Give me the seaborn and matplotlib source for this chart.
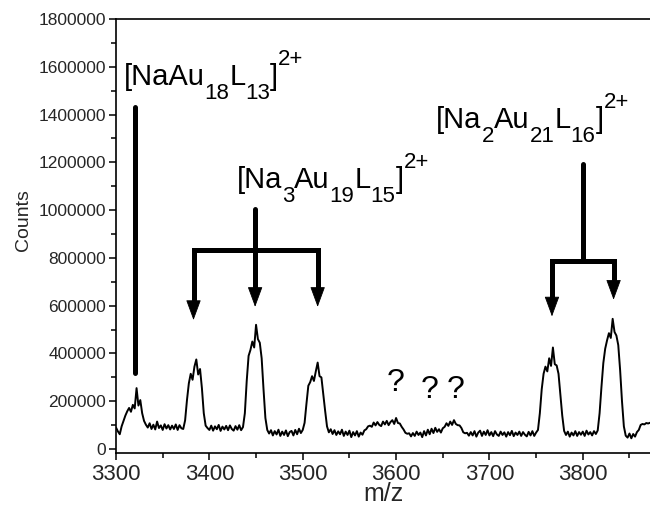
import numpy as np
import pandas as pd
import matplotlib
matplotlib.use("Agg")
import matplotlib.pyplot as plt
import matplotlib.transforms as mtransforms
from matplotlib.ticker import MultipleLocator, FormatStrFormatter
import seaborn as sns

# spectrum, sampled every 2 m/z starting at 3300 (counts in thousands)
mz_start = 3300
mz_step = 2
counts_k = [
    90, 74, 62, 95, 118, 140, 158, 172, 156, 185,
    170, 255, 182, 205, 150, 118, 102, 90, 108, 84,
    102, 82, 115, 88, 99, 80, 104, 86, 100, 82,
    98, 84, 103, 80, 100, 87, 84, 120, 205, 275,
    315, 290, 345, 375, 312, 335, 255, 150, 98, 88,
    80, 98, 77, 95, 83, 101, 76, 94, 82, 97,
    79, 99, 84, 77, 96, 81, 100, 79, 92, 150,
    285, 390, 415, 450, 425, 520, 460, 445, 380, 250,
    130, 80, 65, 79, 57, 75, 61, 81, 55, 73,
    59, 78, 54, 71, 76, 57, 80, 62, 85, 67,
    80, 110, 190, 265, 280, 305, 285, 325, 362, 305,
    300, 230, 160, 95, 70, 83, 63, 79, 59, 74,
    62, 81, 55, 73, 59, 77, 50, 71, 57, 75,
    52, 69, 60, 78, 83, 95, 98, 93, 111, 99,
    113, 101, 96, 115, 103, 118, 100, 113, 121, 105,
    130, 109, 107, 93, 82, 68, 64, 66, 53, 67,
    55, 73, 59, 69, 50, 75, 57, 81, 62, 85,
    67, 89, 72, 83, 69, 87, 93, 108, 97, 115,
    101, 121, 105, 100, 99, 88, 70, 66, 68, 56,
    71, 57, 75, 52, 69, 77, 55, 73, 59, 79,
    57, 71, 54, 75, 61, 55, 73, 59, 70, 52,
    71, 58, 76, 54, 69, 59, 73, 55, 71, 60,
    53, 72, 57, 75, 55, 69, 80, 150, 250, 315,
    345, 325, 380, 348, 425, 355, 350, 315, 230, 140,
    76, 59, 73, 52, 69, 57, 75, 55, 71, 60,
    73, 55, 77, 61, 71, 57, 75, 63, 78, 150,
    260, 360, 420, 455, 485, 465, 545, 490, 475, 435,
    330, 200, 95, 56, 48, 65, 45, 63, 52, 71,
    80, 101, 105, 103, 109, 107, 110,
]

# annotation positions (m/z) and heights (counts)
na1_peak = 3320
na1_line = [320000, 1430000]
na3_peaks = [3383, 3449, 3516]
na3_tips = [540000, 595000, 595000]
na3_bar = 835000
na3_stem_top = 1005000
na2_peaks = [3767, 3833]
na2_tips = [555000, 625000]
na2_bar = 785000
na2_stem_x = 3800
na2_stem_top = 1195000

labels = [
    ([("[NaAu", "n"), ("18", "sub"), ("L", "n"), ("13", "sub"), ("]", "n"), ("2+", "sup")], 3308, 1524000),
    ([("[Na", "n"), ("3", "sub"), ("Au", "n"), ("19", "sub"), ("L", "n"), ("15", "sub"), ("]", "n"), ("2+", "sup")], 3429, 1093000),
    ([("[Na", "n"), ("2", "sub"), ("Au", "n"), ("21", "sub"), ("L", "n"), ("16", "sub"), ("]", "n"), ("2+", "sup")], 3643, 1344000),
]
question_x = [3600, 3636, 3664]
question_y = [276000, 247000, 247000]

df = pd.DataFrame({"mz": mz_start + mz_step * np.arange(len(counts_k)),
                   "counts": np.array(counts_k) * 1000})

sns.set_style("ticks")
plt.rcParams["font.family"] = ["Liberation Sans", "DejaVu Sans"]

fig = plt.figure(figsize=(6.5, 5.12), dpi=100)
ax = fig.add_axes([0.1785, 0.115, 0.8215, 0.848])

sns.lineplot(data=df, x="mz", y="counts", ax=ax, color="black", linewidth=1.4, sort=False)

ax.set_xlim(3300, 3872)
ax.set_ylim(-17000, 1800000)
ax.xaxis.set_major_locator(MultipleLocator(100))
ax.xaxis.set_minor_locator(MultipleLocator(50))
ax.yaxis.set_major_locator(MultipleLocator(200000))
ax.yaxis.set_minor_locator(MultipleLocator(100000))
ax.yaxis.set_major_formatter(FormatStrFormatter("%d"))
ax.tick_params(which="major", direction="out", length=5, width=1.1, color="black")
ax.tick_params(which="minor", direction="out", length=3.5, width=1.1, color="black")
ax.tick_params(axis="x", labelsize=16, pad=3)
ax.tick_params(axis="y", labelsize=12.5, pad=2)
ax.set_xlabel("m/z", fontsize=18, labelpad=-2)
ax.set_ylabel("Counts", fontsize=14, labelpad=4)
ax.yaxis.set_label_coords(-0.158, 0.537)
ax.spines["right"].set_visible(False)
for s in ["left", "bottom", "top"]:
    ax.spines[s].set_linewidth(1.2)
    ax.spines[s].set_color("black")

lw = 3.6
head_len = 75000
arrow_style = "-|>,head_length=1.3,head_width=0.48"

# [NaAu18L13] marker line
ax.plot([na1_peak, na1_peak], na1_line, color="black", lw=lw, solid_capstyle="round")

def bracket(peaks, tips, bar, stem_x, stem_top):
    xs = [peaks[0], peaks[0], peaks[-1], peaks[-1]]
    ys = [tips[0] + head_len, bar, bar, tips[-1] + head_len]
    ax.plot(xs, ys, color="black", lw=lw, solid_joinstyle="miter", solid_capstyle="butt")
    ax.plot([stem_x, stem_x], [stem_top, bar], color="black", lw=lw, solid_capstyle="round")
    for px, tip in zip(peaks, tips):
        if px == stem_x:
            ax.plot([px, px], [bar, tip + head_len], color="black", lw=lw, solid_capstyle="butt")
        ax.annotate("", xy=(px, tip), xytext=(px, bar),
                    arrowprops=dict(arrowstyle=arrow_style, mutation_scale=10, lw=0.6,
                                    color="black", shrinkA=0, shrinkB=0))

bracket(na3_peaks, na3_tips, na3_bar, na3_peaks[1], na3_stem_top)
bracket(na2_peaks, na2_tips, na2_bar, na2_stem_x, na2_stem_top)

# formula labels built piece by piece (sub/superscripts dropped/raised like the original)
fig.canvas.draw()
renderer = fig.canvas.get_renderer()
main_fs = 21
small_fs = 16
for parts, lx, ly in labels:
    dx = 0.0
    for txt, kind in parts:
        if kind == "sub":
            fs, dy = small_fs, -10.5
        elif kind == "sup":
            fs, dy = small_fs, 14.5
        else:
            fs, dy = main_fs, 0.0
        tr = mtransforms.offset_copy(ax.transData, fig=fig, x=dx, y=dy, units="points")
        t = ax.text(lx, ly, txt, fontsize=fs, transform=tr, ha="left", va="baseline", color="black")
        w = t.get_window_extent(renderer).width * 72.0 / fig.dpi
        dx += w

for qx, qy in zip(question_x, question_y):
    ax.text(qx, qy, "?", fontsize=23, ha="center", va="center", color="black")

fig.savefig("out.png", dpi=100)
